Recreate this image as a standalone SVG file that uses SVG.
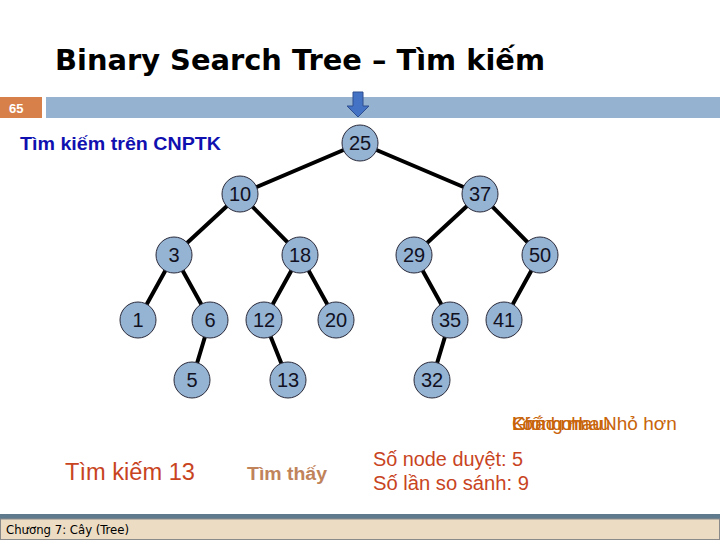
<svg xmlns="http://www.w3.org/2000/svg" width="720" height="540" viewBox="0 0 720 540">
<defs>
<style>
.nd circle{fill:#95b3d3;stroke:#2a2a3a;stroke-width:1}
.nd text{font-family:"Liberation Sans",Arial,sans-serif;font-size:20px;fill:#111122;text-anchor:middle}
.edge{stroke:#000;stroke-width:4;stroke-linecap:round}
.cmp{font-family:"Liberation Sans",Arial,sans-serif;font-size:19px;fill:#c8640a}
</style>
</defs>
<rect width="720" height="540" fill="#ffffff"/>
<text x="55" y="70" font-family="'DejaVu Sans',Verdana,sans-serif" font-weight="bold" font-size="29" textLength="490" lengthAdjust="spacingAndGlyphs" fill="#000">Binary Search Tree – Tìm kiếm</text>
<g id="header">
<rect x="0" y="97" width="42" height="21" fill="#d8804a"/>
<text x="9" y="113" font-family="'Liberation Sans',Arial,sans-serif" font-weight="bold" font-size="13" fill="#ffffff">65</text>
<rect x="46" y="97" width="674" height="21" fill="#95b3d0"/>
</g>
<g id="pointer">
<path d="M353,92 H363 V106 H369 L358,117 L347,106 H353 Z" fill="#4472c4" stroke="#2f4f8f" stroke-width="1"/>
</g>
<text x="20" y="150" font-family="'Liberation Sans',Arial,sans-serif" font-weight="bold" font-size="19" textLength="201" lengthAdjust="spacingAndGlyphs" fill="#1010b0">Tìm kiếm trên CNPTK</text>
<g id="connectors">
<line class="edge" x1="360" y1="143" x2="240" y2="194"/>
<line class="edge" x1="360" y1="143" x2="480" y2="194"/>
<line class="edge" x1="240" y1="194" x2="174" y2="255"/>
<line class="edge" x1="240" y1="194" x2="300" y2="255"/>
<line class="edge" x1="480" y1="194" x2="414" y2="255"/>
<line class="edge" x1="480" y1="194" x2="540" y2="255"/>
<line class="edge" x1="174" y1="255" x2="138" y2="320"/>
<line class="edge" x1="174" y1="255" x2="210" y2="320"/>
<line class="edge" x1="210" y1="320" x2="192" y2="380"/>
<line class="edge" x1="300" y1="255" x2="264" y2="320"/>
<line class="edge" x1="300" y1="255" x2="336" y2="320"/>
<line class="edge" x1="264" y1="320" x2="288" y2="380"/>
<line class="edge" x1="414" y1="255" x2="450" y2="320"/>
<line class="edge" x1="450" y1="320" x2="432" y2="380"/>
<line class="edge" x1="540" y1="255" x2="504" y2="320"/>
</g>
<g id="n25" class="nd"><circle cx="360" cy="143" r="18"/><text x="360" y="150">25</text></g>
<g id="n10" class="nd"><circle cx="240" cy="194" r="18"/><text x="240" y="201">10</text></g>
<g id="n37" class="nd"><circle cx="480" cy="194" r="18"/><text x="480" y="201">37</text></g>
<g id="n3" class="nd"><circle cx="174" cy="255" r="18"/><text x="174" y="262">3</text></g>
<g id="n18" class="nd"><circle cx="300" cy="255" r="18"/><text x="300" y="262">18</text></g>
<g id="n29" class="nd"><circle cx="414" cy="255" r="18"/><text x="414" y="262">29</text></g>
<g id="n50" class="nd"><circle cx="540" cy="255" r="18"/><text x="540" y="262">50</text></g>
<g id="n1" class="nd"><circle cx="138" cy="320" r="18"/><text x="138" y="327">1</text></g>
<g id="n6" class="nd"><circle cx="210" cy="320" r="18"/><text x="210" y="327">6</text></g>
<g id="n12" class="nd"><circle cx="264" cy="320" r="18"/><text x="264" y="327">12</text></g>
<g id="n20" class="nd"><circle cx="336" cy="320" r="18"/><text x="336" y="327">20</text></g>
<g id="n35" class="nd"><circle cx="450" cy="320" r="18"/><text x="450" y="327">35</text></g>
<g id="n41" class="nd"><circle cx="504" cy="320" r="18"/><text x="504" y="327">41</text></g>
<g id="n5" class="nd"><circle cx="192" cy="380" r="18"/><text x="192" y="387">5</text></g>
<g id="n13" class="nd"><circle cx="288" cy="380" r="18"/><text x="288" y="387">13</text></g>
<g id="n32" class="nd"><circle cx="432" cy="380" r="18"/><text x="432" y="387">32</text></g>
<g id="compare">
<text class="cmp" x="512" y="430">Khác nhau</text>
<text class="cmp" x="512" y="430">Giống nhau</text>
<text class="cmp" x="512" y="430">Lớn hơn</text>
<text class="cmp" x="603" y="430">Nhỏ hơn</text>
</g>
<text x="65" y="480" font-family="'Liberation Sans',Arial,sans-serif" font-size="23" textLength="130" lengthAdjust="spacingAndGlyphs" fill="#c8441e">Tìm kiếm 13</text>
<text x="247" y="480" font-family="'Liberation Sans',Arial,sans-serif" font-weight="bold" font-size="18" textLength="80" lengthAdjust="spacingAndGlyphs" fill="#c0835a">Tìm thấy</text>
<text x="373" y="466" font-family="'Liberation Sans',Arial,sans-serif" font-size="20" textLength="150" lengthAdjust="spacingAndGlyphs" fill="#c8441e">Số node duyệt: 5</text>
<text x="373" y="490" font-family="'Liberation Sans',Arial,sans-serif" font-size="20" textLength="156" lengthAdjust="spacingAndGlyphs" fill="#c8441e">Số lần so sánh: 9</text>
<g id="footer">
<rect x="0" y="514" width="720" height="5" fill="#5f7a8c"/>
<rect x="0.5" y="519" width="719" height="20.5" fill="#ecdcc4" stroke="#8a8a8a" stroke-width="1"/>
<text x="6" y="534" font-family="'DejaVu Sans Condensed','DejaVu Sans',sans-serif" font-size="13" fill="#000">Chương 7: Cây (Tree)</text>
</g>
</svg>
